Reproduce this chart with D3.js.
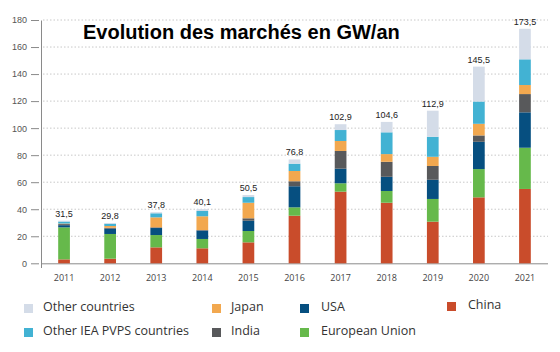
<!DOCTYPE html>
<html>
<head>
<meta charset="utf-8">
<script src="https://cdn.jsdelivr.net/npm/d3@7"></script>
<style>
  body { margin: 0; background: #fff; }
</style>
</head>
<body>
<div id="chart"></div>
<script>
// data (GW per year)
var years = ['2011', '2012', '2013', '2014', '2015', '2016', '2017', '2018', '2019', '2020', '2021'];
var china = [2.9, 3.4, 11.8, 11.1, 15.5, 35.2, 53.0, 44.8, 30.8, 48.8, 55.0];
var europeanUnion = [23.7, 18.3, 9.1, 6.9, 8.4, 6.2, 6.2, 8.7, 16.8, 20.9, 30.5];
var usa = [1.6, 3.9, 5.2, 6.2, 7.6, 15.6, 10.8, 10.5, 14.2, 20.2, 26.2];
var india = [0.8, 0.7, 0.5, 0.4, 1.8, 3.7, 13.1, 11.1, 10.2, 4.7, 13.5];
var japan = [0.4, 1.3, 7.4, 10.2, 11.5, 7.6, 7.4, 5.7, 6.8, 8.6, 6.7];
var otherIea = [1.5, 1.7, 3.0, 3.9, 4.2, 5.4, 8.1, 16.1, 14.8, 16.5, 19.0];
var otherCountries = [0.6, 0.5, 0.8, 1.4, 1.5, 3.1, 4.3, 7.7, 19.3, 25.8, 22.6];
var totalLabels = ['31,5', '29,8', '37,8', '40,1', '50,5', '76,8', '102,9', '104,6', '112,9', '145,5', '173,5'];
var yTicks = [0, 20, 40, 60, 80, 100, 120, 140, 160, 180];

var seriesKeys = ['China', 'European Union', 'USA', 'India', 'Japan', 'Other IEA PVPS countries', 'Other countries'];
var seriesValues = [china, europeanUnion, usa, india, japan, otherIea, otherCountries];
var colors = ['#c94c2b', '#66b94b', '#064f80', '#58595b', '#f2a84f', '#42b2d3', '#d4dce8'];

var svgwidth = 560;
var svgheight = 352;

var svg = d3.select('#chart')
            .append('svg')
            .attr('width', svgwidth)
            .attr('height', svgheight)
            .style('font-family', 'Liberation Sans, Arial, sans-serif');

// table for the stack
var table = years.map(function(y, i) {
    var row = { year: y };
    seriesKeys.forEach(function(k, j) { row[k] = seriesValues[j][i]; });
    return row;
});

var xscale = d3.scaleBand()
               .domain(years)
               .range([41, 548])
               .paddingInner(0.746)
               .paddingOuter(0.373);

var yscale = d3.scaleLinear()
               .domain([0, 180])
               .range([263.3, 20]);

var color = d3.scaleOrdinal()
              .domain(seriesKeys)
              .range(colors);

// gridlines
svg.append('g')
   .selectAll('line')
   .data(yTicks.slice(1))
   .join('line')
   .attr('x1', 43)
   .attr('x2', 548)
   .attr('y1', d => yscale(d))
   .attr('y2', d => yscale(d))
   .attr('stroke', '#c8c8c8')
   .attr('stroke-width', 1)
   .attr('stroke-dasharray', '1.5,2');

// title
svg.append('text')
   .attr('x', 83)
   .attr('y', 38.5)
   .text('Evolution des marchés en GW/an')
   .style('font-size', '20px')
   .style('font-weight', 'bold')
   .attr('fill', '#000');

// y axis
var yaxis = d3.axisLeft(yscale)
              .tickValues(yTicks)
              .tickSize(10)
              .tickPadding(4)
              .tickSizeOuter(0);
var gy = svg.append('g')
            .attr('transform', 'translate(41,0)')
            .call(yaxis);
gy.select('.domain').attr('stroke', '#8a8a8a').attr('d', 'M0.5,20.5V268');
gy.selectAll('.tick line').attr('stroke', '#8a8a8a').attr('x1', -2);
gy.selectAll('.tick text')
  .attr('fill', '#555')
  .style('font-size', '9px')
  .style('font-family', 'Liberation Sans, Arial, sans-serif');

// x axis
var xaxis = d3.axisBottom(xscale)
              .tickSize(0)
              .tickPadding(11)
              .tickSizeOuter(0);
var gx = svg.append('g')
            .attr('transform', 'translate(0,' + 263.3 + ')')
            .call(xaxis);
gx.select('.domain').attr('stroke', '#8a8a8a').attr('d', 'M41,0.5H548');
gx.selectAll('.tick text')
  .attr('fill', '#444')
  .style('font-size', '9px')
  .style('font-family', 'Open Sans, sans-serif');

// stacked bars
var stacked = d3.stack().keys(seriesKeys)(table);
svg.append('g')
   .selectAll('g')
   .data(stacked)
   .join('g')
   .attr('fill', d => color(d.key))
   .selectAll('rect')
   .data(d => d)
   .join('rect')
   .attr('x', d => xscale(d.data.year))
   .attr('y', d => yscale(d[1]))
   .attr('width', xscale.bandwidth())
   .attr('height', d => yscale(d[0]) - yscale(d[1]));

// totals on top
svg.append('g')
   .selectAll('text')
   .data(table)
   .join('text')
   .attr('x', d => xscale(d.year) + xscale.bandwidth() / 2)
   .attr('y', d => yscale(d3.sum(seriesKeys, k => d[k])) - 4)
   .attr('text-anchor', 'middle')
   .attr('fill', '#222')
   .style('font-size', '9px')
   .text((d, i) => totalLabels[i]);

// legend
var legendItems = [
    { key: 'Other countries', x: 24, y: 308 },
    { key: 'Japan', x: 212, y: 308 },
    { key: 'USA', x: 300, y: 308 },
    { key: 'China', x: 447, y: 306 },
    { key: 'Other IEA PVPS countries', x: 24, y: 332 },
    { key: 'India', x: 212, y: 332 },
    { key: 'European Union', x: 300, y: 332 }
];
var legend = svg.append('g')
                .selectAll('g')
                .data(legendItems)
                .join('g')
                .attr('transform', d => 'translate(' + d.x + ',' + d.y + ')');
legend.append('rect')
      .attr('x', 0)
      .attr('y', -4)
      .attr('width', 9)
      .attr('height', 9)
      .attr('fill', d => color(d.key));
legend.append('text')
      .attr('x', d => d.x > 290 ? 21 : 19)
      .attr('y', 0)
      .attr('dominant-baseline', 'middle')
      .attr('fill', '#333')
      .style('font-size', '12.5px')
      .style('font-family', 'Open Sans, sans-serif')
      .text(d => d.key);
</script>
</body>
</html>
